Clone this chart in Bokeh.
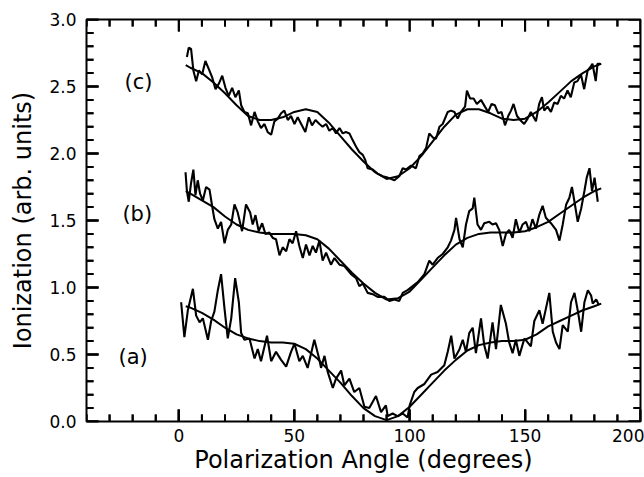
import math
import numpy as np
from bokeh.plotting import figure
from bokeh.models import FixedTicker, Range1d
from bokeh.core.properties import value
from bokeh.embed import file_html
from bokeh.resources import INLINE

FONT = "DejaVu Sans"

# ---------------- data ----------------
a_x = [1.0, 2.4, 3.9, 6.1, 7.5, 9.0, 10.4, 12.6, 14.0, 15.4, 16.9, 18.3, 19.8, 21.2, 22.7, 24.4, 26.0, 27.0,
       28.4, 30.6, 32.8, 34.2, 35.6, 38.2, 40.0, 42.1, 44.3, 46.5, 48.6, 50.1, 52.2, 53.7, 55.8, 58.7, 60.9,
       61.6, 63.1, 64.5, 66.7, 68.1, 70.3, 71.7, 73.9, 76.0, 78.2, 80.4, 82.5, 85.4, 87.6, 89.7, 90.5, 92.6,
       94.8, 97.0, 99.1, 100.0, 102.0, 103.5, 106.4, 109.3, 112.1, 115.0, 116.5, 118.0, 119.4, 121.6, 123.0,
       124.4, 125.8, 127.3, 128.7, 130.9, 132.3, 133.8, 135.9, 137.4, 139.5, 141.7, 143.1, 144.6, 146.0,
       147.5, 149.7, 152.5, 154.0, 156.2, 157.6, 160.5, 162.0, 163.4, 164.9, 166.3, 168.5, 169.9, 171.4,
       172.8, 174.3, 175.7, 177.2, 178.6, 179.3, 180.8, 182.0]
a_y = [0.89, 0.63, 0.83, 0.99, 0.79, 0.74, 0.77, 0.61, 0.75, 0.82, 0.98, 1.10, 0.84, 0.62, 0.77, 1.07, 0.89, 0.66,
       0.61, 0.62, 0.47, 0.54, 0.45, 0.64, 0.45, 0.52, 0.46, 0.41, 0.52, 0.58, 0.45, 0.49, 0.40, 0.61, 0.46,
       0.40, 0.49, 0.37, 0.25, 0.32, 0.38, 0.27, 0.32, 0.22, 0.25, 0.11, 0.10, 0.19, 0.07, 0.12, 0.04, 0.06,
       0.04, 0.06, 0.03, 0.12, 0.22, 0.25, 0.28, 0.35, 0.37, 0.42, 0.52, 0.64, 0.47, 0.54, 0.61,
       0.52, 0.66, 0.70, 0.51, 0.77, 0.57, 0.47, 0.74, 0.54, 0.87, 0.73, 0.59, 0.51, 0.61,
       0.49, 0.62, 0.56, 0.75, 0.83, 0.73, 0.96, 0.67, 0.59, 0.54, 0.72, 0.67, 0.89, 0.96,
       0.83, 0.67, 0.89, 0.98, 0.94, 0.88, 0.91, 0.87]

b_x = [2.9, 3.5, 4.3, 5.3, 6.3, 7.2, 8.2, 9.2, 10.4, 11.8, 13.3, 14.4, 15.4, 16.9, 18.3, 19.8, 21.2, 22.7, 24.1,
       25.5, 27.4, 29.1, 30.9, 32.0, 33.2, 34.6, 36.1, 37.5, 39.2, 40.7, 42.1, 43.6, 45.0, 46.5, 47.9, 49.3,
       50.8, 52.2, 53.7, 55.1, 56.6, 58.0, 59.4, 60.9, 62.3, 63.8, 65.9, 67.4, 69.6, 71.7, 74.6, 76.8, 78.2,
       79.7, 81.8, 84.0, 86.1, 89.0, 91.2, 93.4, 95.5, 97.0, 99.1, 101.3, 103.5, 106.4, 108.5, 110.0, 112.1,
       114.3, 116.5, 117.9, 119.4, 120.1, 121.6, 123.0, 124.4, 125.8, 127.3, 128.0, 129.4, 130.9, 132.3,
       134.5, 135.9, 137.4, 138.8, 140.3, 141.7, 143.1, 144.6, 146.0, 147.5, 148.9, 150.4, 151.8, 153.2,
       154.7, 156.1, 157.6, 159.0, 161.2, 163.4, 164.9, 166.3, 167.8, 169.2, 170.3, 171.4, 172.8, 174.3,
       175.7, 176.7, 177.9, 179.0, 180.1, 180.8, 181.5]
b_y = [1.86, 1.72, 1.64, 1.78, 1.88, 1.69, 1.80, 1.70, 1.65, 1.75, 1.73, 1.61, 1.51, 1.44, 1.49, 1.33, 1.43, 1.47, 1.62,
       1.56, 1.42, 1.62, 1.56, 1.47, 1.54, 1.42, 1.48, 1.40, 1.41, 1.37, 1.36, 1.24, 1.30, 1.27, 1.36, 1.33,
       1.42, 1.31, 1.22, 1.32, 1.24, 1.31, 1.26, 1.35, 1.20, 1.26, 1.17, 1.22, 1.17, 1.16, 1.10, 1.07, 1.01,
       1.03, 0.96, 0.95, 0.93, 0.93, 0.90, 0.91, 0.90, 0.96, 0.98, 1.01, 1.04, 1.10, 1.20, 1.17, 1.22,
       1.25, 1.30, 1.35, 1.43, 1.52, 1.36, 1.30, 1.47, 1.57, 1.59, 1.67, 1.47, 1.43, 1.48,
       1.49, 1.47, 1.48, 1.43, 1.31, 1.40, 1.43, 1.37, 1.51, 1.41, 1.47, 1.49, 1.42, 1.51,
       1.44, 1.54, 1.61, 1.52, 1.48, 1.43, 1.35, 1.47, 1.62, 1.67, 1.75, 1.64, 1.49, 1.59,
       1.72, 1.82, 1.89, 1.72, 1.82, 1.73, 1.64]

c_x = [3.5, 4.3, 5.3, 6.3, 7.5, 8.7, 10.1, 11.5, 13.0, 14.4, 15.9, 17.3, 18.8, 20.2, 21.6, 23.1, 24.5, 26.0, 27.0,
       28.4, 29.9, 31.3, 32.8, 34.2, 35.6, 37.1, 38.5, 40.0, 41.4, 42.9, 44.3, 45.7, 47.2, 48.6, 50.1, 51.5,
       53.0, 54.8, 56.3, 57.7, 59.2, 60.9, 62.3, 63.8, 65.2, 66.7, 68.1, 69.6, 71.0, 72.4, 73.9, 75.3, 76.8,
       78.2, 79.7, 80.8, 81.8, 84.0, 86.1, 88.3, 90.5, 93.4, 95.5, 97.0, 98.4, 100.6, 102.7, 104.2, 105.6,
       107.1, 108.5, 110.0, 111.4, 112.9, 114.3, 116.5, 117.9, 119.4, 120.8, 122.2, 124.0, 124.8, 126.2,
       127.7, 129.1, 130.9, 132.6, 134.0, 135.5, 136.9, 138.4, 139.8, 141.3, 142.7, 143.9, 145.0, 146.5,
       147.9, 149.6, 151.1, 152.5, 154.7, 156.1, 157.3, 158.3, 159.7, 161.2, 162.6, 164.1, 165.5, 166.9,
       168.4, 169.8, 171.3, 172.7, 174.2, 175.6, 177.1, 178.5, 179.2, 180.6, 181.4, 182.5]
c_y = [2.72, 2.79, 2.78, 2.62, 2.54, 2.62, 2.59, 2.69, 2.63, 2.57, 2.48, 2.52, 2.58, 2.49, 2.43, 2.49, 2.42, 2.47, 2.36,
       2.31, 2.30, 2.21, 2.31, 2.24, 2.19, 2.22, 2.16, 2.14, 2.24, 2.26, 2.30, 2.32, 2.25, 2.28, 2.22, 2.27,
       2.22, 2.16, 2.27, 2.21, 2.25, 2.22, 2.20, 2.22, 2.17, 2.19, 2.15, 2.19, 2.15, 2.16, 2.15, 2.10, 2.05,
       2.01, 1.99, 1.95, 1.89, 1.88, 1.85, 1.83, 1.82, 1.80, 1.83, 1.89, 1.88, 1.91, 1.89, 1.98, 2.00,
       2.04, 2.15, 2.12, 2.11, 2.20, 2.22, 2.31, 2.32, 2.31, 2.26, 2.31, 2.35, 2.47, 2.41,
       2.41, 2.37, 2.40, 2.35, 2.31, 2.37, 2.36, 2.30, 2.31, 2.21, 2.28, 2.32, 2.37, 2.28,
       2.25, 2.22, 2.26, 2.31, 2.24, 2.37, 2.42, 2.32, 2.35, 2.31, 2.38, 2.37, 2.43, 2.41,
       2.47, 2.42, 2.53, 2.54, 2.59, 2.48, 2.62, 2.65, 2.67, 2.54, 2.67, 2.67]

fit_x = [3, 5, 10, 15, 20, 25, 30, 35, 40, 45, 50, 55, 60, 65, 70, 75, 80, 85, 90, 95, 100, 105, 110,
         115, 120, 125, 130, 135, 140, 145, 150, 155, 160, 165, 170, 175, 180, 183]
fit_a = [0.86, 0.85, 0.81, 0.76, 0.70, 0.65, 0.62, 0.60, 0.59, 0.59, 0.58, 0.54, 0.47, 0.38, 0.29, 0.19, 0.10,
         0.04, 0.01, 0.04, 0.11, 0.20, 0.29, 0.38, 0.46, 0.53, 0.57, 0.59, 0.60, 0.60, 0.61, 0.65, 0.71, 0.75,
         0.79, 0.83, 0.86, 0.88]
fit_b = [1.72, 1.70, 1.65, 1.60, 1.53, 1.47, 1.43, 1.41, 1.40, 1.40, 1.40, 1.39, 1.36, 1.29, 1.20, 1.11, 1.03,
         0.96, 0.91, 0.92, 0.97, 1.06, 1.15, 1.24, 1.32, 1.37, 1.40, 1.41, 1.41, 1.41, 1.42, 1.45, 1.49, 1.55,
         1.61, 1.67, 1.72, 1.74]
fit_c = [2.66, 2.64, 2.60, 2.53, 2.45, 2.36, 2.28, 2.25, 2.25, 2.27, 2.31, 2.33, 2.31, 2.23, 2.13, 2.03, 1.94,
         1.86, 1.81, 1.83, 1.89, 1.98, 2.09, 2.20, 2.29, 2.33, 2.33, 2.30, 2.26, 2.25, 2.26, 2.31, 2.38, 2.46,
         2.54, 2.60, 2.65, 2.67]

curve_labels = ["(a)", "(b)", "(c)"]
label_x = [-19.8, -18.0, -17.5]
label_y = [0.48, 1.55, 2.53]

x_major = [0, 50, 100, 150, 200]
x_minor = [t for t in range(-40, 201, 10) if t not in x_major]
y_major = [0.0, 0.5, 1.0, 1.5, 2.0, 2.5, 3.0]
y_minor = [round(i / 10, 1) for i in range(0, 31) if i % 5 != 0]
y_tick_text = {t: "%.1f" % t for t in y_major}

# ---------------- figure ----------------
X0, X1, Y0, Y1 = -40, 200, 0.0, 3.0
W, H = 644, 477
BL, BR, BT, BB = 86, 4, 19, 56
p = figure(width=W, height=H, output_backend="svg", toolbar_location=None,
           x_range=Range1d(X0, X1), y_range=Range1d(Y0, Y1),
           min_border_left=BL, min_border_right=BR, min_border_top=BT, min_border_bottom=BB)
p.grid.visible = False
p.outline_line_color = "black"
p.outline_line_width = 2
p.xaxis.axis_label = "Polarization Angle (degrees)"
p.yaxis.axis_label = "Ionization (arb. units)"

for ax in (p.xaxis[0], p.yaxis[0]):
    ax.axis_line_color = "black"
    ax.major_tick_in = 12
    ax.major_tick_out = 0
    ax.major_tick_line_color = "black"
    ax.major_tick_line_width = 2
    ax.minor_tick_line_color = None
    ax.major_label_text_font = FONT
    ax.major_label_text_font_size = "17px"
    ax.major_label_text_color = "black"
    ax.axis_label_text_font = FONT
    ax.axis_label_text_font_size = "24px"
    ax.axis_label_text_font_style = "normal"
    ax.axis_label_text_color = "black"

p.xaxis[0].ticker = FixedTicker(ticks=x_major)
p.xaxis[0].major_label_standoff = 7
p.xaxis[0].axis_label_standoff = 1
p.yaxis[0].ticker = FixedTicker(ticks=y_major)
p.yaxis[0].major_label_overrides = y_tick_text
p.yaxis[0].major_label_standoff = 10
p.yaxis[0].axis_label_standoff = 9

# ---- inward tick marks on all four sides ----
dx = (X1 - X0) / (W - BL - BR)
dy = (Y1 - Y0) / (H - BT - BB)


def tick_path(ticks, L, vertical, edge, sign):
    """Polyline with NaN breaks: one short stroke per tick value."""
    xs, ys = [], []
    for t in ticks:
        if vertical:
            xs += [t, t, np.nan]
            ys += [edge, edge + sign * L * dy, np.nan]
        else:
            xs += [edge, edge + sign * L * dx, np.nan]
            ys += [t, t, np.nan]
    return np.array(xs, dtype=float), np.array(ys, dtype=float)


for ticks, L in ((x_major, 12), (x_minor, 7)):
    for edge, sign in ((Y0, 1), (Y1, -1)):
        xs, ys = tick_path(ticks, L, True, edge, sign)
        p.line(xs, ys, line_color="black", line_width=2)
        # same ticks again as dash markers centred on the edge (outer half clipped)
        p.scatter(x=ticks, y=[edge] * len(ticks), marker="dash", size=2 * L, angle=math.pi / 2,
                  line_color="black", line_width=2, fill_color=None)
for ticks, L in ((y_major, 12), (y_minor, 7)):
    for edge, sign in ((X0, 1), (X1, -1)):
        xs, ys = tick_path(ticks, L, False, edge, sign)
        p.line(xs, ys, line_color="black", line_width=2)
        p.scatter(x=[edge] * len(ticks), y=ticks, marker="dash", size=2 * L,
                  line_color="black", line_width=2, fill_color=None)

# noisy data
for xs, ys in ((a_x, a_y), (b_x, b_y), (c_x, c_y)):
    p.line(xs, ys, line_color="black", line_width=2.1)
# fits
for ys in (fit_a, fit_b, fit_c):
    p.line(fit_x, ys, line_color="black", line_width=2.0)

p.text(x=label_x, y=label_y, text=curve_labels, text_font=value(FONT), text_font_size="21px",
       text_align="center", text_baseline="middle", text_color="black")

open("out.html", "w").write(file_html(p, INLINE))
